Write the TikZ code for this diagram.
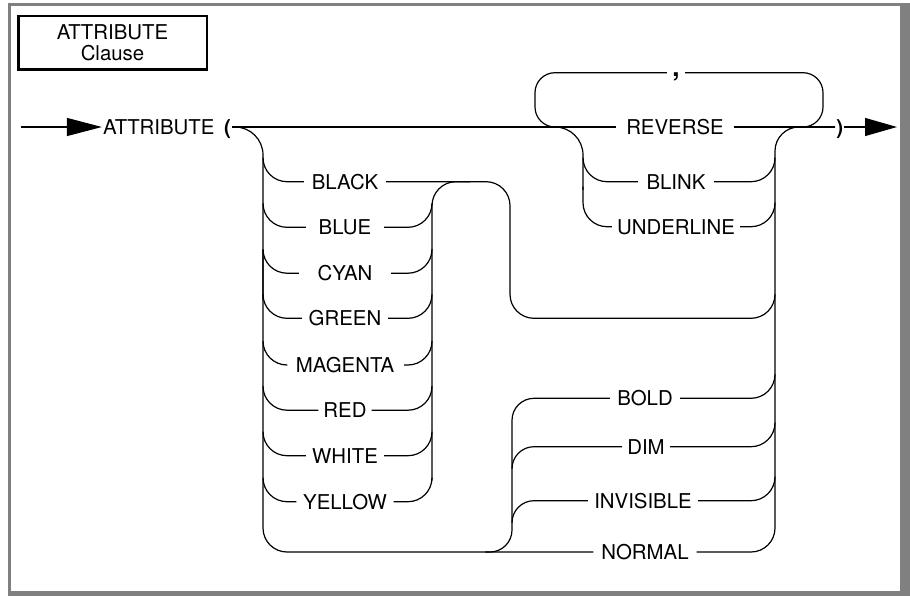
\documentclass[tikz,border=0pt]{standalone}
\usepackage{fontspec}
\setmainfont{TeX Gyre Heros}
\usetikzlibrary{arrows.meta,calc}
\definecolor{framegray}{RGB}{128,128,128}
\newcommand\lblsize{\fontsize{20.4pt}{20.7pt}\selectfont}
\newcommand\commasize{\fontsize{26pt}{26pt}\selectfont}
\begin{document}
\begin{tikzpicture}[x=1pt,y=-1pt,
  rail/.style={line width=1.2pt, line join=round},
  lbl/.style={font=\lblsize, inner xsep=1pt, inner ysep=0pt, text height=14.7pt, text depth=0pt, anchor=center},
  punct/.style={font=\lblsize\bfseries, inner xsep=1pt, inner ysep=0pt, text height=14.7pt, text depth=0pt, anchor=center},
  ]
\useasboundingbox (0,0) rectangle (910,596);
% frame
\fill[framegray] (8.3,2.7) rectangle (11,593);
\fill[framegray] (8.3,2.7) rectangle (905,5.7);
\fill[framegray] (900,2.7) rectangle (910,596);
\fill[framegray] (8.3,591) rectangle (910,596);
% title
\node[draw, line width=2.5pt, minimum width=188.5pt, minimum height=53.5pt, inner sep=0pt, font=\lblsize, align=center] (title) at (112.5,43) {ATTRIBUTE\\Clause};
% main line nodes
\coordinate (start) at (21,127);
\coordinate (end) at (897,127);
\node[lbl] (attr) at (158.8,127) {ATTRIBUTE};
\node[punct] (lpar) at (227.5,127) {(};
\node[punct] (rpar) at (839.7,127) {)};
\node[lbl, minimum width=117pt] (reverse) at (675,127) {REVERSE};
\node[lbl, minimum width=76pt] (blink) at (676,181.7) {BLINK};
\node[lbl, minimum width=128pt] (underline) at (676,226.7) {UNDERLINE};
\node[font=\commasize\bfseries, inner sep=0pt, text height=7.6pt, text depth=0pt, minimum width=18pt] (comma) at (676,72.7) {,};
% colour labels
\node[lbl, minimum width=82pt] (black) at (345,181.7) {BLACK};
\node[lbl, minimum width=78pt] (blue) at (345,227.3) {BLUE};
\node[lbl, minimum width=92pt] (cyan) at (345,273.2) {CYAN};
\node[lbl, minimum width=86pt] (green) at (345,318.3) {GREEN};
\node[lbl, minimum width=118pt] (magenta) at (345,365) {MAGENTA};
\node[lbl, minimum width=53pt] (red) at (345,410.2) {RED};
\node[lbl, minimum width=78pt] (white) at (345,455.7) {WHITE};
\node[lbl, minimum width=97pt] (yellow) at (345,501.7) {YELLOW};
% intensity labels
\node[lbl, minimum width=70pt] (bold) at (645,398.3) {BOLD};
\node[lbl, minimum width=48pt] (dim) at (646,446.7) {DIM};
\node[lbl, minimum width=110pt] (invisible) at (643,500.7) {INVISIBLE};
\node[lbl, minimum width=103pt] (normal) at (645,552) {NORMAL};
% junction coordinates
\coordinate (cL) at (263,300);
\coordinate (cCR) at (432,0);
\coordinate (jB) at (470,181.7);
\coordinate (bkc) at (510,318.3);
\coordinate (bkr) at (775,294.3);
\coordinate (cR) at (775,127);
\coordinate (uj) at (555,127);
\coordinate (cU) at (583,127);
\coordinate (cUd) at (583,190);
\coordinate (loopBL) at (535,127);
\coordinate (loopTL) at (535,72.7);
\coordinate (loopTR) at (823,72.7);
\coordinate (loopBR) at (823,127);
\coordinate (jR) at (800,127);
\coordinate (cB) at (512,552);
\coordinate (bj) at (485,552);
% main line
\draw[rail,-{Triangle[length=35pt,width=18pt]}] (start) -- (attr.west);
\draw[rail] (lpar.east) -- (reverse.west);
\draw[rail] (reverse.east) -- (rpar.west);
\draw[rail,-{Triangle[length=32pt,width=18pt]}] (rpar.east) -- (end);
% colour group
\draw[rail, rounded corners=28pt] (lpar.east) -| (cL);
\draw[rail, rounded corners=24pt] ($(cL)+(0,-50)$) |- (normal.west);
\foreach \n in {black,blue,cyan,green,magenta,red,white,yellow}
  \draw[rail, rounded corners=24pt] ($(\n.west -| cL)+(0,-24)$) |- (\n.west);
\foreach \n in {blue,cyan,green,magenta,red,white,yellow}
  \draw[rail, rounded corners=24pt] (\n.east) -| ($(\n.east -| cCR)+(0,-24)$);
\draw[rail, rounded corners=24pt] ($(yellow.east -| cCR)+(0,-21)$) |- (jB);
\draw[rail, rounded corners=24pt] (black.east) -| (bkc) -| (bkr);
% right vertical
\draw[rail, rounded corners=24pt] (normal.east) -| (cR) -- (rpar.west);
\foreach \n in {blink,underline,bold,dim,invisible}
  \draw[rail, rounded corners=24pt] (\n.east) -| ($(\n.east -| cR)+(0,-24)$);
% upper branch
\draw[rail, rounded corners=28pt] (uj) -| (cUd);
\draw[rail, rounded corners=24pt] ($(blink.west -| cU)+(0,-24)$) |- (blink.west);
\draw[rail, rounded corners=24pt] ($(underline.west -| cU)+(0,-40)$) |- (underline.west);
% repeat loop
\draw[rail, rounded corners=20pt] (uj) -- (loopBL) -- (loopTL) -- (comma.west);
\draw[rail, rounded corners=20pt] (comma.east) -- (loopTR) -- (loopBR) -- (jR);
% intensity group
\draw[rail, rounded corners=22pt] (bold.west) -| (cB) -- (bj);
\foreach \n in {dim,invisible}
  \draw[rail, rounded corners=22pt] (\n.west) -| ($(\n.west -| cB)+(0,22)$);
\end{tikzpicture}
\end{document}
